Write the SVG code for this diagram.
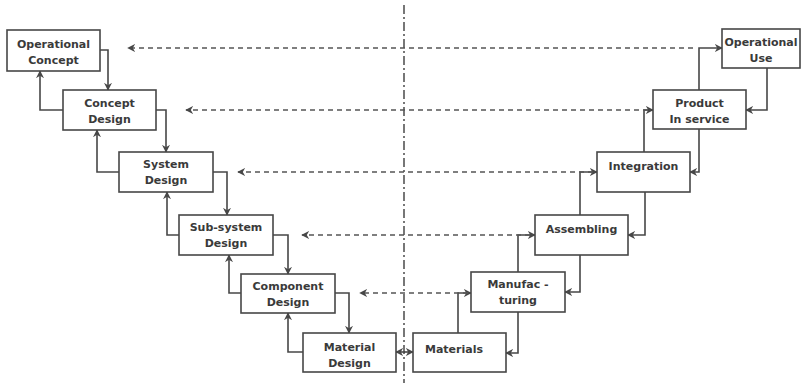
<svg xmlns="http://www.w3.org/2000/svg" width="804" height="383" viewBox="0 0 804 383">
<style>
.box{fill:#fff;stroke:#474747;stroke-width:1.6}
.t{font-family:"DejaVu Sans","Liberation Sans",sans-serif;font-weight:bold;font-size:11px;fill:#3a3a3a;text-anchor:middle}
.c{fill:none;stroke:#474747;stroke-width:1.6;marker-end:url(#ah)}
.d{fill:none;stroke:#555;stroke-width:1.6;stroke-dasharray:5 4;marker-end:url(#ah)}
.axis{fill:none;stroke:#555;stroke-width:1.6;stroke-dasharray:9 3 2 3}
</style>
<defs>
<marker id="ah" viewBox="0 0 10 10" refX="9" refY="5" markerWidth="8" markerHeight="8" markerUnits="userSpaceOnUse" orient="auto-start-reverse">
<path d="M0,0 L10,5 L0,10 L3,5 z" fill="#474747"/>
</marker>
</defs>
<rect width="804" height="383" fill="#fff"/>
<path class="axis" d="M404,5 V383"/>
<g id="connectors">
<path class="c" d="M100,50 H108 V90"/>
<path class="c" d="M156,110 H166 V152"/>
<path class="c" d="M213,172 H227 V215"/>
<path class="c" d="M273,235 H288 V274"/>
<path class="c" d="M335,293 H349 V333"/>
<path class="c" d="M63,110 H40 V71"/>
<path class="c" d="M119,172 H97 V130"/>
<path class="c" d="M179,235 H167 V192"/>
<path class="c" d="M241,293 H229 V255"/>
<path class="c" d="M303,352 H288 V313"/>
<path class="c" d="M458,333 V293 H471"/>
<path class="c" d="M518,272 V235 H535"/>
<path class="c" d="M580,215 V172 H597"/>
<path class="c" d="M644,152 V110 H653"/>
<path class="c" d="M699,90 V48 H722"/>
<path class="c" d="M767,68 V110 H746"/>
<path class="c" d="M699,129 V172 H690"/>
<path class="c" d="M645,192 V235 H628"/>
<path class="c" d="M580,255 V292 H565"/>
<path class="c" d="M518,312 V353 H506"/>
<path class="c" d="M404,352 H413"/>
<path class="c" d="M405,352 H396"/>
<path class="d" d="M693,48 H128"/>
<path class="d" d="M648,110 H186"/>
<path class="d" d="M593,172 H238"/>
<path class="d" d="M530,235 H302"/>
<path class="d" d="M468,293 H360"/>
</g>
<g id="operational-concept"><rect class="box" x="7" y="30" width="93" height="41"/><text class="t" x="53.5" y="48">Operational</text><text class="t" x="53.5" y="64">Concept</text></g>
<g id="concept-design"><rect class="box" x="63" y="90" width="93" height="40"/><text class="t" x="109.5" y="107">Concept</text><text class="t" x="109.5" y="123">Design</text></g>
<g id="system-design"><rect class="box" x="119" y="152" width="94" height="40"/><text class="t" x="166" y="168">System</text><text class="t" x="166" y="184">Design</text></g>
<g id="sub-system-design"><rect class="box" x="179" y="215" width="94" height="40"/><text class="t" x="226" y="231">Sub-system</text><text class="t" x="226" y="247">Design</text></g>
<g id="component-design"><rect class="box" x="241" y="274" width="94" height="39"/><text class="t" x="288" y="290">Component</text><text class="t" x="288" y="306">Design</text></g>
<g id="material-design"><rect class="box" x="303" y="333" width="93" height="39"/><text class="t" x="349.5" y="351">Material</text><text class="t" x="349.5" y="367">Design</text></g>
<g id="materials"><rect class="box" x="413" y="333" width="93" height="39"/><text class="t" x="454" y="353">Materials</text></g>
<g id="manufacturing"><rect class="box" x="471" y="272" width="94" height="40"/><text class="t" x="518" y="288">Manufac -</text><text class="t" x="518" y="304">turing</text></g>
<g id="assembling"><rect class="box" x="535" y="215" width="93" height="40"/><text class="t" x="581.5" y="233">Assembling</text></g>
<g id="integration"><rect class="box" x="597" y="152" width="93" height="40"/><text class="t" x="643.5" y="170">Integration</text></g>
<g id="product-in-service"><rect class="box" x="653" y="90" width="93" height="39"/><text class="t" x="699.5" y="107">Product</text><text class="t" x="699.5" y="123">In service</text></g>
<g id="operational-use"><rect class="box" x="722" y="29" width="78" height="39"/><text class="t" x="761" y="46">Operational</text><text class="t" x="761" y="62">Use</text></g>
</svg>
